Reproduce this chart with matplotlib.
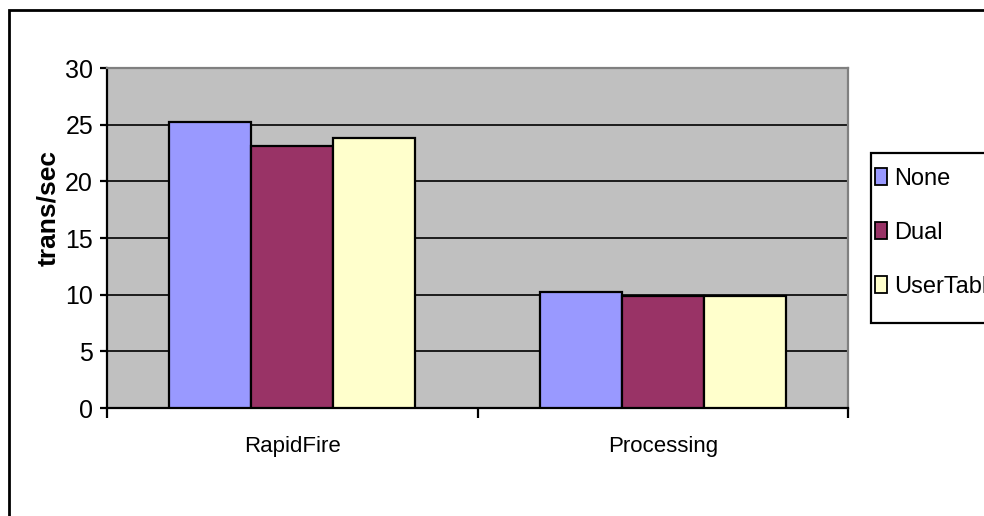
import numpy as np
import matplotlib
matplotlib.use("Agg")
import matplotlib.pyplot as plt
from matplotlib.patches import Rectangle, Patch

categories = ["RapidFire", "Processing"]
series = ["None", "Dual", "UserTable"]
none_vals = [25.2, 10.2]
dual_vals = [23.1, 9.9]
usertable_vals = [23.8, 9.9]
colors = ["#9999FF", "#993366", "#FFFFCC"]
yticks = [0, 5, 10, 15, 20, 25, 30]

font = ["Liberation Sans", "DejaVu Sans"]
W, H = 984, 516

fig = plt.figure(figsize=(W / 100, H / 100), dpi=100)
ax = fig.add_axes([107 / W, 1 - 408 / H, (848 - 107) / W, (408 - 68) / H])
ax.set_facecolor("#C0C0C0")

x = np.arange(len(categories))
bw = 0.664 / 3
for i, vals in enumerate([none_vals, dual_vals, usertable_vals]):
    ax.bar(x + (i - 1) * bw, vals, bw, color=colors[i], edgecolor="black",
           linewidth=1.6, zorder=3)

ax.set_xlim(-0.5, 1.5)
ax.set_ylim(0, 30)
ax.set_yticks(yticks)
ax.yaxis.grid(True, color="black", linewidth=1.2, zorder=1)
ax.set_axisbelow(True)

for s in ["top", "right"]:
    ax.spines[s].set_color("#808080")
    ax.spines[s].set_linewidth(1.6)
for s in ["left", "bottom"]:
    ax.spines[s].set_color("black")
    ax.spines[s].set_linewidth(1.6)

ax.set_xticks(x)
ax.set_xticklabels(categories, fontsize=16, family=font)
ax.set_xticks([-0.5, 0.5, 1.5], minor=True)
ax.tick_params(axis="x", which="major", length=0, pad=20)
ax.tick_params(axis="x", which="minor", direction="out", length=7, width=1.6)
ax.tick_params(axis="y", direction="out", length=5, width=1.6, pad=5)
for lab in ax.get_yticklabels():
    lab.set_fontsize(18)
    lab.set_family(font)

fig.text(48 / W, 1 - 208 / H, "trans/sec", rotation=90, fontsize=19,
         fontweight="bold", family=font, ha="center", va="center")

# legend box, partly running off the right edge
fig.patches.append(Rectangle((871 / W, 1 - 323 / H), 200 / W, 170 / H,
                             transform=fig.transFigure, facecolor="white",
                             edgecolor="black", linewidth=1.6))
handles = [Patch(facecolor=c, edgecolor="black", linewidth=1.3) for c in colors]
fig.legend(handles, series, loc="upper left",
           bbox_to_anchor=(875 / W, 1 - 168 / H), frameon=False,
           prop={"family": font, "size": 17}, handlelength=0.5,
           handleheight=0.7, handletextpad=0.3, labelspacing=1.35,
           borderpad=0, borderaxespad=0)

# outer chart border
fig.patches.append(Rectangle((9 / W, -0.1), 1.2, 1 - 10 / H + 0.1,
                             transform=fig.transFigure, fill=False,
                             edgecolor="black", linewidth=2))

fig.savefig("out.png", dpi=100)
